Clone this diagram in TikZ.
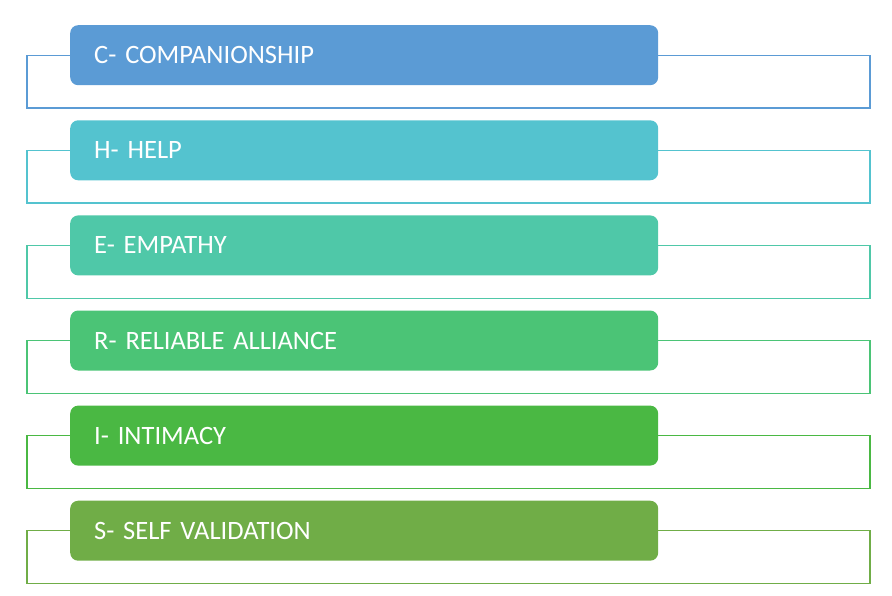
\documentclass[tikz,border=0pt]{standalone}
\usepackage{fontspec}
\setmainfont{Carlito}
\usetikzlibrary{positioning}

\definecolor{rowC}{HTML}{5B9BD5}
\definecolor{rowH}{HTML}{54C3CF}
\definecolor{rowE}{HTML}{4FC8A8}
\definecolor{rowR}{HTML}{4BC476}
\definecolor{rowI}{HTML}{4AB843}
\definecolor{rowS}{HTML}{70AD47}

\begin{document}
\begin{tikzpicture}[x=1pt, y=-1pt,
  letterbox/.style={fill=#1, rounded corners=8pt, minimum width=588pt,
    minimum height=60pt, text width=540pt, inner xsep=24pt, align=left,
    text=white, font=\fontsize{26.5}{30}\selectfont, anchor=north west},
  frameline/.style={draw=#1, line width=1.4pt}]

\useasboundingbox (0,0) rectangle (892,595);

% One row per letter: filled box and its open frame
\foreach \name/\col/\lab [count=\i] in {c/rowC/C- COMPANIONSHIP, h/rowH/H- HELP,
    e/rowE/E- EMPATHY, r/rowR/R- RELIABLE ALLIANCE, i/rowI/I- INTIMACY,
    s/rowS/S- SELF VALIDATION} {
  \pgfmathsetmacro\ytop{25+95.1*(\i-1)}
  \node[letterbox=\col] (\name) at (70,\ytop) {\lab};
  \coordinate (\name-sw) at (27,\ytop+83);
  \coordinate (\name-se) at (870,\ytop+83);
  \draw[frameline=\col] (\name.west) -| (\name-sw) -- (\name-se) |- (\name.east);
}

\end{tikzpicture}
\end{document}
